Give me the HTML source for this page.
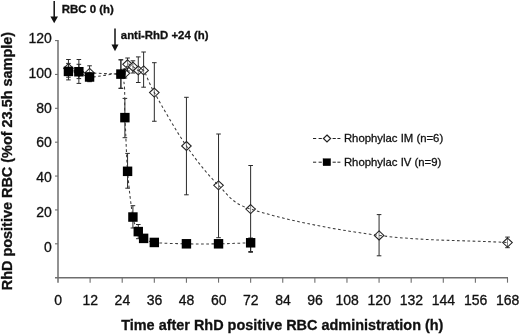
<!DOCTYPE html><html><head><meta charset="utf-8"><style>html,body{margin:0;padding:0;background:#fff}svg{display:block}</style></head><body><svg width="520" height="336" viewBox="0 0 520 336">
<rect width="520" height="336" fill="#fff"/>
<g stroke="#6e6e6e" stroke-width="1.5" fill="none">
<line x1="58.0" y1="40.08" x2="58.0" y2="282.67"/>
<line x1="55.0" y1="277.67" x2="508.00" y2="277.67"/>
<line x1="55.0" y1="243.80" x2="58.0" y2="243.80" stroke-width="1.1"/>
<line x1="55.0" y1="209.93" x2="58.0" y2="209.93" stroke-width="1.1"/>
<line x1="55.0" y1="176.06" x2="58.0" y2="176.06" stroke-width="1.1"/>
<line x1="55.0" y1="142.19" x2="58.0" y2="142.19" stroke-width="1.1"/>
<line x1="55.0" y1="108.32" x2="58.0" y2="108.32" stroke-width="1.1"/>
<line x1="55.0" y1="74.45" x2="58.0" y2="74.45" stroke-width="1.1"/>
<line x1="55.0" y1="40.58" x2="58.0" y2="40.58" stroke-width="1.1"/>
<line x1="90.11" y1="282.67" x2="90.11" y2="277.67" stroke-width="1.1"/>
<line x1="122.21" y1="282.67" x2="122.21" y2="277.67" stroke-width="1.1"/>
<line x1="154.32" y1="282.67" x2="154.32" y2="277.67" stroke-width="1.1"/>
<line x1="186.43" y1="282.67" x2="186.43" y2="277.67" stroke-width="1.1"/>
<line x1="218.54" y1="282.67" x2="218.54" y2="277.67" stroke-width="1.1"/>
<line x1="250.64" y1="282.67" x2="250.64" y2="277.67" stroke-width="1.1"/>
<line x1="282.75" y1="282.67" x2="282.75" y2="277.67" stroke-width="1.1"/>
<line x1="314.86" y1="282.67" x2="314.86" y2="277.67" stroke-width="1.1"/>
<line x1="346.96" y1="282.67" x2="346.96" y2="277.67" stroke-width="1.1"/>
<line x1="379.07" y1="282.67" x2="379.07" y2="277.67" stroke-width="1.1"/>
<line x1="411.18" y1="282.67" x2="411.18" y2="277.67" stroke-width="1.1"/>
<line x1="443.29" y1="282.67" x2="443.29" y2="277.67" stroke-width="1.1"/>
<line x1="475.39" y1="282.67" x2="475.39" y2="277.67" stroke-width="1.1"/>
<line x1="507.50" y1="282.67" x2="507.50" y2="277.67" stroke-width="1.1"/>
</g>
<g font-family="Liberation Sans, Arial, sans-serif" font-size="14" fill="#111" stroke="#111" stroke-width="0.3">
<text x="51.8" y="251.50" text-anchor="end">0</text>
<text x="51.8" y="216.77" text-anchor="end">20</text>
<text x="51.8" y="182.04" text-anchor="end">40</text>
<text x="51.8" y="147.31" text-anchor="end">60</text>
<text x="51.8" y="112.58" text-anchor="end">80</text>
<text x="51.8" y="77.85" text-anchor="end">100</text>
<text x="51.8" y="43.12" text-anchor="end">120</text>
<text x="58.20" y="305.3" text-anchor="middle">0</text>
<text x="90.31" y="305.3" text-anchor="middle">12</text>
<text x="122.41" y="305.3" text-anchor="middle">24</text>
<text x="154.52" y="305.3" text-anchor="middle">36</text>
<text x="186.63" y="305.3" text-anchor="middle">48</text>
<text x="218.74" y="305.3" text-anchor="middle">60</text>
<text x="250.84" y="305.3" text-anchor="middle">72</text>
<text x="282.95" y="305.3" text-anchor="middle">84</text>
<text x="315.06" y="305.3" text-anchor="middle">96</text>
<text x="347.16" y="305.3" text-anchor="middle">108</text>
<text x="379.27" y="305.3" text-anchor="middle">120</text>
<text x="411.38" y="305.3" text-anchor="middle">132</text>
<text x="443.49" y="305.3" text-anchor="middle">144</text>
<text x="475.59" y="305.3" text-anchor="middle">156</text>
<text x="507.70" y="305.3" text-anchor="middle">168</text>
</g>
<g font-family="Liberation Sans, Arial, sans-serif" font-weight="bold" fill="#111" stroke="#111" stroke-width="0.3">
<text x="282.3" y="330.3" font-size="14.45" text-anchor="middle">Time after RhD positive RBC administration (h)</text>
<text transform="translate(11.9,161.1) rotate(-90)" font-size="14.45" text-anchor="middle">RhD positive RBC (%of 23.5h sample)</text>
<text x="61.7" y="13.3" font-size="11.45">RBC 0 (h)</text>
<text x="120.8" y="39.3" font-size="11.4">anti-RhD +24 (h)</text>
</g>
<line x1="54.2" y1="1" x2="54.2" y2="18.3" stroke="#111" stroke-width="1.5"/>
<polygon points="50.400000000000006,16.5 58.0,16.5 54.2,23.3" fill="#111"/>
<line x1="115" y1="28.5" x2="115" y2="46.2" stroke="#111" stroke-width="1.5"/>
<polygon points="111.5,44.400000000000006 118.5,44.400000000000006 115,51.2" fill="#111"/>
<path d="M68.43 59.50V79.90M66.13 59.50H70.73M66.13 79.90H70.73" stroke="#2a2a2a" stroke-width="1" fill="none"/>
<path d="M78.87 59.50V83.40M76.57 59.50H81.17M76.57 83.40H81.17" stroke="#2a2a2a" stroke-width="1" fill="none"/>
<path d="M89.57 65.80V81.70M87.27 65.80H91.87M87.27 81.70H91.87" stroke="#2a2a2a" stroke-width="1" fill="none"/>
<path d="M120.88 59.80V88.30M118.58 59.80H123.18M118.58 88.30H123.18" stroke="#2a2a2a" stroke-width="1" fill="none"/>
<path d="M124.89 69.00V78.00M122.59 69.00H127.19M122.59 78.00H127.19" stroke="#2a2a2a" stroke-width="1" fill="none"/>
<path d="M127.57 58.00V71.00M125.27 58.00H129.87M125.27 71.00H129.87" stroke="#2a2a2a" stroke-width="1" fill="none"/>
<path d="M132.92 60.80V73.00M130.62 60.80H135.22M130.62 73.00H135.22" stroke="#2a2a2a" stroke-width="1" fill="none"/>
<path d="M138.27 56.90V82.50M135.97 56.90H140.57M135.97 82.50H140.57" stroke="#2a2a2a" stroke-width="1" fill="none"/>
<path d="M143.62 52.00V87.20M141.32 52.00H145.92M141.32 87.20H145.92" stroke="#2a2a2a" stroke-width="1" fill="none"/>
<path d="M154.32 62.70V121.25M152.02 62.70H156.62M152.02 121.25H156.62" stroke="#2a2a2a" stroke-width="1" fill="none"/>
<path d="M186.43 97.30V194.80M184.13 97.30H188.73M184.13 194.80H188.73" stroke="#2a2a2a" stroke-width="1" fill="none"/>
<path d="M218.54 134.00V237.70M216.24 134.00H220.84M216.24 237.70H220.84" stroke="#2a2a2a" stroke-width="1" fill="none"/>
<path d="M250.64 165.50V252.30M248.34 165.50H252.94M248.34 252.30H252.94" stroke="#2a2a2a" stroke-width="1" fill="none"/>
<path d="M379.07 214.60V255.80M376.77 214.60H381.37M376.77 255.80H381.37" stroke="#2a2a2a" stroke-width="1" fill="none"/>
<path d="M507.50 237.10V247.70M505.20 237.10H509.80M505.20 247.70H509.80" stroke="#2a2a2a" stroke-width="1" fill="none"/>
<polygon points="68.43,63.68 73.23,68.18 68.43,72.68 63.63,68.18" fill="#fff" fill-opacity="0.4" stroke="#222" stroke-width="1.05"/>
<polygon points="78.87,67.41 83.67,71.91 78.87,76.41 74.07,71.91" fill="#fff" fill-opacity="0.4" stroke="#222" stroke-width="1.05"/>
<polygon points="89.57,68.43 94.37,72.93 89.57,77.43 84.77,72.93" fill="#fff" fill-opacity="0.4" stroke="#222" stroke-width="1.05"/>
<polygon points="120.88,69.61 125.68,74.11 120.88,78.61 116.08,74.11" fill="#fff" fill-opacity="0.4" stroke="#222" stroke-width="1.05"/>
<polygon points="124.89,68.76 129.69,73.26 124.89,77.76 120.09,73.26" fill="#fff" fill-opacity="0.4" stroke="#222" stroke-width="1.05"/>
<polygon points="127.57,59.79 132.37,64.29 127.57,68.79 122.77,64.29" fill="#fff" fill-opacity="0.4" stroke="#222" stroke-width="1.05"/>
<polygon points="132.92,62.16 137.72,66.66 132.92,71.16 128.12,66.66" fill="#fff" fill-opacity="0.4" stroke="#222" stroke-width="1.05"/>
<polygon points="138.27,65.89 143.07,70.39 138.27,74.89 133.47,70.39" fill="#fff" fill-opacity="0.4" stroke="#222" stroke-width="1.05"/>
<polygon points="143.62,65.89 148.42,70.39 143.62,74.89 138.82,70.39" fill="#fff" fill-opacity="0.4" stroke="#222" stroke-width="1.05"/>
<polygon points="154.32,88.07 159.12,92.57 154.32,97.07 149.52,92.57" fill="#fff" fill-opacity="0.4" stroke="#222" stroke-width="1.05"/>
<polygon points="186.43,141.50 191.23,146.00 186.43,150.50 181.63,146.00" fill="#fff" fill-opacity="0.4" stroke="#222" stroke-width="1.05"/>
<polygon points="218.54,180.87 223.34,185.37 218.54,189.87 213.74,185.37" fill="#fff" fill-opacity="0.4" stroke="#222" stroke-width="1.05"/>
<polygon points="250.64,204.58 255.44,209.08 250.64,213.58 245.84,209.08" fill="#fff" fill-opacity="0.4" stroke="#222" stroke-width="1.05"/>
<polygon points="379.07,230.92 383.87,235.42 379.07,239.92 374.27,235.42" fill="#fff" fill-opacity="0.4" stroke="#222" stroke-width="1.05"/>
<polygon points="507.50,238.03 512.30,242.53 507.50,247.03 502.70,242.53" fill="#fff" fill-opacity="0.4" stroke="#222" stroke-width="1.05"/>
<path d="M68.43 68.18C71.91 69.43 75.35 71.12 78.87 71.91C82.39 72.70 84.20 72.64 89.57 72.93C96.57 73.29 119.11 74.09 120.88 74.11C122.93 74.13 123.78 74.90 124.89 73.26C126.00 71.63 126.23 65.39 127.57 64.29C128.90 63.19 131.13 65.64 132.92 66.66C134.70 67.68 136.48 69.76 138.27 70.39C140.05 71.01 142.05 68.22 143.62 70.39C146.29 74.08 148.25 81.85 154.32 92.57C161.46 105.17 175.73 130.53 186.43 146.00C197.13 161.47 207.83 174.86 218.54 185.37C229.24 195.89 231.59 203.14 250.64 209.08C284.09 219.51 325.56 228.45 379.07 235.42C421.88 240.99 464.69 240.16 507.50 242.53" fill="none" stroke="#3c3c3c" stroke-width="1.05" stroke-dasharray="2.7 2.5"/>
<path d="M68.43 63.40V77.20M66.13 63.40H70.73M66.13 77.20H70.73" stroke="#2a2a2a" stroke-width="1" fill="none"/>
<path d="M78.87 64.30V78.60M76.57 64.30H81.17M76.57 78.60H81.17" stroke="#2a2a2a" stroke-width="1" fill="none"/>
<path d="M89.57 73.00V81.00M87.27 73.00H91.87M87.27 81.00H91.87" stroke="#2a2a2a" stroke-width="1" fill="none"/>
<path d="M120.88 59.80V88.30M118.58 59.80H123.18M118.58 88.30H123.18" stroke="#2a2a2a" stroke-width="1" fill="none"/>
<path d="M124.89 98.40V137.70M122.59 98.40H127.19M122.59 137.70H127.19" stroke="#2a2a2a" stroke-width="1" fill="none"/>
<path d="M127.57 153.40V188.20M125.27 153.40H129.87M125.27 188.20H129.87" stroke="#2a2a2a" stroke-width="1" fill="none"/>
<path d="M132.92 205.70V228.00M130.62 205.70H135.22M130.62 228.00H135.22" stroke="#2a2a2a" stroke-width="1" fill="none"/>
<path d="M138.27 224.50V238.70M135.97 224.50H140.57M135.97 238.70H140.57" stroke="#2a2a2a" stroke-width="1" fill="none"/>
<path d="M143.62 235.00V241.50M141.32 235.00H145.92M141.32 241.50H145.92" stroke="#2a2a2a" stroke-width="1" fill="none"/>
<path d="M154.32 241.00V244.00M152.02 241.00H156.62M152.02 244.00H156.62" stroke="#2a2a2a" stroke-width="1" fill="none"/>
<path d="M186.43 242.50V245.00M184.13 242.50H188.73M184.13 245.00H188.73" stroke="#2a2a2a" stroke-width="1" fill="none"/>
<path d="M218.54 242.50V245.00M216.24 242.50H220.84M216.24 245.00H220.84" stroke="#2a2a2a" stroke-width="1" fill="none"/>
<path d="M250.64 238.00V251.50M248.34 238.00H252.94M248.34 251.50H252.94" stroke="#2a2a2a" stroke-width="1" fill="none"/>
<path d="M68.43 71.40C71.91 71.51 75.35 70.81 78.87 71.74C82.39 72.67 83.62 76.65 89.57 76.99C96.57 77.39 119.11 72.08 120.88 74.11C126.76 80.89 123.78 101.43 124.89 117.63C126.00 133.84 126.23 154.75 127.57 171.32C128.90 187.89 131.13 206.99 132.92 217.04C134.27 224.68 136.48 228.05 138.27 231.61C140.05 235.16 140.94 236.57 143.62 238.38C146.29 240.19 148.64 241.73 154.32 242.45C161.46 243.35 175.73 243.57 186.43 243.80C197.13 244.03 207.83 243.97 218.54 243.80C229.24 243.63 239.94 243.12 250.64 242.78" fill="none" stroke="#3c3c3c" stroke-width="1.05" stroke-dasharray="2.7 2.5"/>
<rect x="63.73" y="66.65" width="9.4" height="9.5" fill="#000"/>
<rect x="74.17" y="66.99" width="9.4" height="9.5" fill="#000"/>
<rect x="84.87" y="72.24" width="9.4" height="9.5" fill="#000"/>
<rect x="116.18" y="69.36" width="9.4" height="9.5" fill="#000"/>
<rect x="120.19" y="112.88" width="9.4" height="9.5" fill="#000"/>
<rect x="122.87" y="166.57" width="9.4" height="9.5" fill="#000"/>
<rect x="128.22" y="212.29" width="9.4" height="9.5" fill="#000"/>
<rect x="133.57" y="226.86" width="9.4" height="9.5" fill="#000"/>
<rect x="138.92" y="233.63" width="9.4" height="9.5" fill="#000"/>
<rect x="149.62" y="237.70" width="9.4" height="9.5" fill="#000"/>
<rect x="181.73" y="239.05" width="9.4" height="9.5" fill="#000"/>
<rect x="213.84" y="239.05" width="9.4" height="9.5" fill="#000"/>
<rect x="245.94" y="238.03" width="9.4" height="9.5" fill="#000"/>
<g font-family="Liberation Sans, Arial, sans-serif" font-size="11.35" fill="#111" stroke="#111" stroke-width="0.3">
<path d="M313 138.5h3.2M318.6 138.5h3.2M332.6 138.5h3.2M337.4 138.5h3" stroke="#222" stroke-width="1" fill="none"/>
<path d="M313 162.2h3.2M318.6 162.2h3.2M332.6 162.2h3.2M337.4 162.2h3" stroke="#222" stroke-width="1" fill="none"/>
<polygon points="327.00,135.00 330.60,138.50 327.00,142.00 323.40,138.50" fill="#fff" fill-opacity="1" stroke="#222" stroke-width="1.2"/>
<rect x="323.00" y="158.60" width="7.7" height="7.2" fill="#000"/>
<text x="343.9" y="142.3">Rhophylac IM (n=6)</text>
<text x="343.9" y="165.8">Rhophylac IV (n=9)</text>
</g>
</svg></body></html>
